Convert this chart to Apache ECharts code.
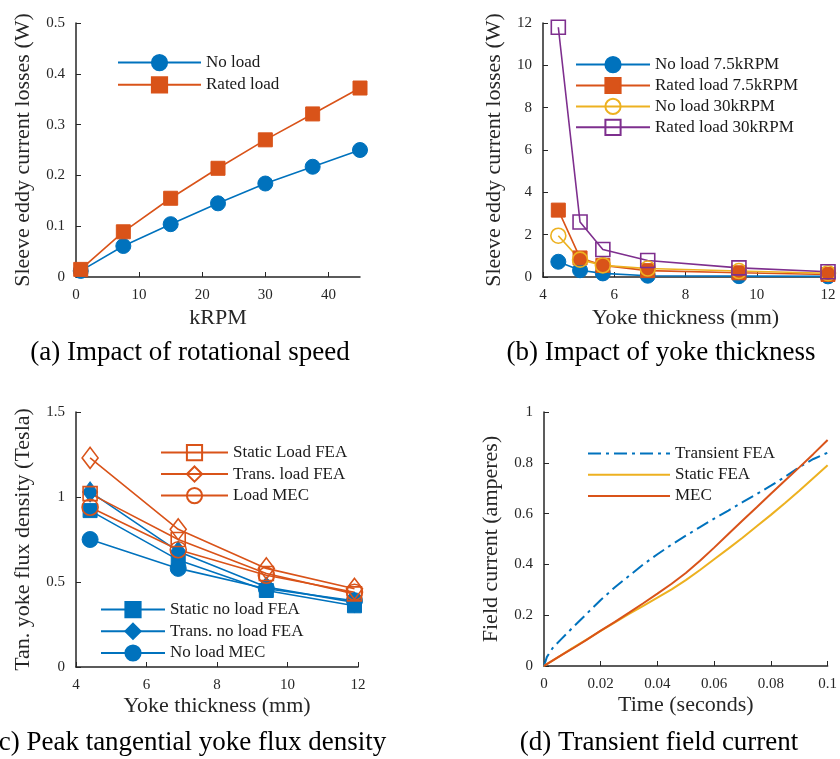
<!DOCTYPE html>
<html>
<head>
<meta charset="utf-8">
<script src="https://cdn.jsdelivr.net/npm/echarts@6/dist/echarts.min.js"></script>
<style>
html,body{margin:0;padding:0;background:#fff;}
#chart{width:840px;height:759px;}
</style>
</head>
<body>
<div id="chart"></div>
<script>
// ---- Panel (a): impact of rotational speed ----
const kRPM = [0.75, 7.5, 15, 22.5, 30, 37.5, 45];
const noLoadA = [0.012, 0.061, 0.104, 0.145, 0.184, 0.217, 0.250];
const ratedLoadA = [0.015, 0.089, 0.155, 0.214, 0.270, 0.321, 0.372];

// ---- Panel (b): impact of yoke thickness ----
const yokeB = [4.43, 5.04, 5.68, 6.94, 9.5, 12];
const noLoad75 = [0.72, 0.32, 0.17, 0.06, 0.04, 0.03];
const rated75 = [3.16, 0.90, 0.55, 0.30, 0.20, 0.12];
const noLoad30 = [1.95, 0.82, 0.55, 0.40, 0.28, 0.18];
const rated30 = [11.8, 2.6, 1.3, 0.78, 0.43, 0.25];

// ---- Panel (c): peak tangential yoke flux density ----
const yokeC = [4.4, 6.9, 9.4, 11.9];
const staticLoadFEA = [1.02, 0.75, 0.55, 0.43];
const transLoadFEA = [1.23, 0.81, 0.58, 0.46];
const loadMEC = [0.94, 0.69, 0.54, 0.44];
const staticNoLoadFEA = [0.92, 0.63, 0.45, 0.36];
const transNoLoadFEA = [1.03, 0.68, 0.47, 0.38];
const noLoadMEC = [0.75, 0.58, 0.46, 0.39];

// ---- Panel (d): transient field current ----
const timeS = [0, 0.001, 0.003, 0.006, 0.01, 0.015, 0.02, 0.025, 0.03, 0.035, 0.04, 0.045, 0.05, 0.055, 0.06, 0.065, 0.07, 0.075, 0.08, 0.085, 0.09, 0.095, 0.1];
const transientFEA = [0, 0.035, 0.07, 0.105, 0.15, 0.205, 0.26, 0.31, 0.355, 0.40, 0.44, 0.478, 0.513, 0.547, 0.58, 0.612, 0.645, 0.677, 0.71, 0.745, 0.783, 0.815, 0.84];
const staticFEA = [0, 0.007, 0.021, 0.042, 0.07, 0.104, 0.138, 0.172, 0.205, 0.237, 0.269, 0.302, 0.338, 0.378, 0.42, 0.462, 0.505, 0.55, 0.595, 0.642, 0.69, 0.74, 0.79];
const mecD = [0, 0.007, 0.021, 0.042, 0.068, 0.103, 0.139, 0.174, 0.21, 0.247, 0.285, 0.324, 0.366, 0.414, 0.466, 0.52, 0.573, 0.625, 0.678, 0.73, 0.782, 0.835, 0.89];

// ---- Tick labels / captions ----
const ticksAx = [0, 10, 20, 30, 40];
const captions = ['(a) Impact of rotational speed', '(b) Impact of yoke thickness', '(c) Peak tangential yoke flux density', '(d) Transient field current'];

const FONT = "'Liberation Serif', 'Times New Roman', serif";
const BLUE = '#0072BD', ORANGE = '#D95319', YELLOW = '#EDB120', PURPLE = '#7E2F8E';
const AX = '#262626';

function pairs(xs, ys) { return xs.map((x, i) => [x, ys[i]]); }

function mk(name, xs, ys, g, color, symbol, size, filled, extra) {
  const s = {
    name: name, type: 'line', xAxisIndex: g, yAxisIndex: g,
    data: pairs(xs, ys), clip: false,
    symbol: symbol, symbolSize: size, showSymbol: symbol !== 'none',
    lineStyle: { color: color, width: 1.6 },
    itemStyle: filled ? { color: color, borderColor: color, borderWidth: 1 }
                      : { color: 'rgba(255,255,255,0)', borderColor: color, borderWidth: 1.6 },
    emphasis: { disabled: true }
  };
  return Object.assign(s, extra || {});
}

function xAxisCfg(g, min, max, interval, name, gap, extra) {
  return Object.assign({
    type: 'value', gridIndex: g, min: min, max: max, interval: interval,
    name: name, nameLocation: 'middle', nameGap: gap,
    nameTextStyle: { fontFamily: FONT, fontSize: 22, color: AX },
    axisLine: { onZero: false, lineStyle: { color: AX, width: 1.5 } },
    axisTick: { inside: true, length: 5, lineStyle: { color: AX, width: 1 } },
    axisLabel: { fontFamily: FONT, fontSize: 15, color: AX, margin: 11 },
    splitLine: { show: false }
  }, extra || {});
}
function yAxisCfg(g, min, max, interval, name, gap) {
  return {
    type: 'value', gridIndex: g, min: min, max: max, interval: interval,
    name: name, nameLocation: 'middle', nameGap: gap,
    nameTextStyle: { fontFamily: FONT, fontSize: 22, color: AX },
    axisLine: { show: true, onZero: false, lineStyle: { color: AX, width: 1.5 } },
    axisTick: { show: true, inside: true, length: 5, lineStyle: { color: AX, width: 1 } },
    axisLabel: { fontFamily: FONT, fontSize: 15, color: AX, margin: 11 },
    splitLine: { show: false }
  };
}
function legendCfg(left, top, w, gap, names, extra) {
  return Object.assign({
    left: left, top: top, orient: 'vertical', padding: 0,
    itemWidth: w, itemHeight: 19, itemGap: gap, selectedMode: false,
    textStyle: { fontFamily: FONT, fontSize: 17, color: '#1a1a1a' },
    data: names
  }, extra || {});
}

const dashDot = [13, 5, 3, 5];

const option = {
  animation: false,
  backgroundColor: '#fff',
  grid: [
    { left: 76, top: 23, width: 284, height: 254 },
    { left: 543, top: 23, width: 285, height: 254 },
    { left: 76, top: 412, width: 282, height: 255 },
    { left: 544, top: 412, width: 285, height: 254 }
  ],
  xAxis: [
    xAxisCfg(0, 0, 45, 10, 'kRPM', 30, {
      axisTick: { inside: true, length: 5, lineStyle: { color: AX, width: 1 }, customValues: ticksAx },
      axisLabel: { fontFamily: FONT, fontSize: 15, color: AX, margin: 11, customValues: ticksAx }
    }),
    xAxisCfg(1, 4, 12, 2, 'Yoke thickness (mm)', 30),
    xAxisCfg(2, 4, 12, 2, 'Yoke thickness (mm)', 28),
    xAxisCfg(3, 0, 0.1, 0.02, 'Time (seconds)', 28)
  ],
  yAxis: [
    yAxisCfg(0, 0, 0.5, 0.1, 'Sleeve eddy current losses (W)', 42),
    yAxisCfg(1, 0, 12, 2, 'Sleeve eddy current losses (W)', 38),
    yAxisCfg(2, 0, 1.5, 0.5, 'Tan. yoke flux density (Tesla)', 42),
    yAxisCfg(3, 0, 1, 0.2, 'Field current (amperes)', 42)
  ],
  legend: [
    legendCfg(117, 54, 83, 5, ['No load', 'Rated load']),
    legendCfg(575, 56, 74, 3.7, ['No load 7.5kRPM', 'Rated load 7.5kRPM', 'No load 30kRPM', 'Rated load 30kRPM']),
    legendCfg(160, 444, 67, 4.3, ['Static Load FEA', 'Trans. load FEA', 'Load MEC']),
    legendCfg(100, 601, 64, 4.5, ['Static no load FEA', 'Trans. no load FEA', 'No load MEC']),
    legendCfg(587, 445, 82, 4, ['Transient FEA', 'Static FEA', 'MEC'], { itemStyle: { opacity: 0 } })
  ],
  series: [
    // (a)
    mk('No load', kRPM, noLoadA, 0, BLUE, 'circle', 15, true),
    mk('Rated load', kRPM, ratedLoadA, 0, ORANGE, 'rect', 14, true),
    // (b)
    mk('No load 7.5kRPM', yokeB, noLoad75, 1, BLUE, 'circle', 15, true),
    mk('Rated load 7.5kRPM', yokeB, rated75, 1, ORANGE, 'rect', 14, true),
    mk('No load 30kRPM', yokeB, noLoad30, 1, YELLOW, 'circle', 15, false),
    mk('Rated load 30kRPM', yokeB, rated30, 1, PURPLE, 'rect', 14, false),
    // (c) blue first, orange on top
    mk('Static no load FEA', yokeC, staticNoLoadFEA, 2, BLUE, 'rect', 14, true),
    mk('Trans. no load FEA', yokeC, transNoLoadFEA, 2, BLUE, 'diamond', [15, 20], true),
    mk('No load MEC', yokeC, noLoadMEC, 2, BLUE, 'circle', 16, true),
    mk('Static Load FEA', yokeC, staticLoadFEA, 2, ORANGE, 'rect', 14, false),
    mk('Trans. load FEA', yokeC, transLoadFEA, 2, ORANGE, 'diamond', [16, 21], false),
    mk('Load MEC', yokeC, loadMEC, 2, ORANGE, 'circle', 16, false),
    // (d)
    mk('Transient FEA', timeS, transientFEA, 3, BLUE, 'none', 0, true, { lineStyle: { color: BLUE, width: 2, type: dashDot } }),
    mk('Static FEA', timeS, staticFEA, 3, YELLOW, 'none', 0, true, { lineStyle: { color: YELLOW, width: 2 } }),
    mk('MEC', timeS, mecD, 3, ORANGE, 'none', 0, true, { lineStyle: { color: ORANGE, width: 2 } })
  ],
  graphic: [
    { type: 'text', x: 190, y: 353, style: { text: captions[0], font: '27px ' + FONT, fill: '#000', align: 'center', verticalAlign: 'middle' } },
    { type: 'text', x: 661, y: 353, style: { text: captions[1], font: '27px ' + FONT, fill: '#000', align: 'center', verticalAlign: 'middle' } },
    { type: 'text', x: 188, y: 743, style: { text: captions[2], font: '27px ' + FONT, fill: '#000', align: 'center', verticalAlign: 'middle' } },
    { type: 'text', x: 659, y: 743, style: { text: captions[3], font: '27px ' + FONT, fill: '#000', align: 'center', verticalAlign: 'middle' } }
  ]
};

const chart = echarts.init(document.getElementById('chart'), null, { renderer: 'canvas' });
chart.setOption(option);
</script>
</body>
</html>
